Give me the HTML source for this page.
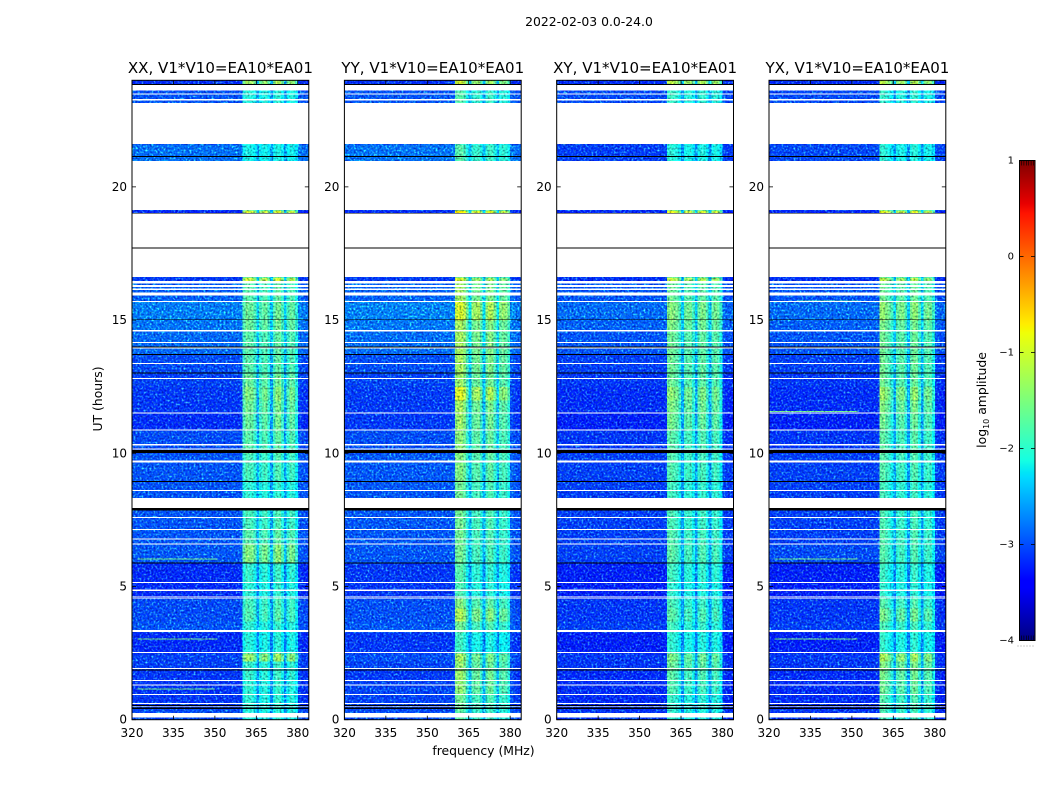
<!DOCTYPE html>
<html>
<head>
<meta charset="utf-8">
<title>2022-02-03 amplitude waterfall</title>
<style>
html,body{margin:0;padding:0;background:#fff;}
svg{display:block;}
text{font-family:"DejaVu Sans","Liberation Sans",sans-serif;fill:#000;}
</style>
</head>
<body>
<svg id="chart" xmlns="http://www.w3.org/2000/svg" width="1050" height="800" viewBox="0 0 1050 800">
  <defs>
    <filter id="speckle" x="0" y="0" width="100%" height="100%" color-interpolation-filters="sRGB">
      <feTurbulence type="fractalNoise" baseFrequency="0.5" numOctaves="2" seed="7" result="n"/>
      <feColorMatrix in="n" type="matrix" values="0.8 0 0 0 -0.42  1.4 0 0 0 -0.62  0 0 0 0 0  0 0 0 0 1" result="add"/>
      <feComposite in="SourceGraphic" in2="add" operator="arithmetic" k1="0" k2="1" k3="1" k4="0" result="a"/>
      <feTurbulence type="fractalNoise" baseFrequency="0.5" numOctaves="2" seed="23" result="m"/>
      <feColorMatrix in="m" type="matrix" values="1.0 0 0 0 0.15  1.0 0 0 0 0.15  0.6 0 0 0 0.37  0 0 0 0 1" result="mul"/>
      <feComposite in="a" in2="mul" operator="arithmetic" k1="1.5" k2="0" k3="0" k4="0" result="c"/>
      <feComposite in="c" in2="SourceGraphic" operator="in"/>
    </filter>
    <linearGradient id="jet-gradient" x1="0" y1="1" x2="0" y2="0"></linearGradient>
  </defs>
  <text x="589" y="26" font-size="12.4" text-anchor="middle">2022-02-03 0.0-24.0</text>
  <text x="483.5" y="755" font-size="12.4" text-anchor="middle">frequency (MHz)</text>
  <text transform="translate(102,399) rotate(-90)" font-size="12.4" text-anchor="middle">UT (hours)</text>
  <g id="panels"></g>
  <g id="colorbar"></g>
  <text transform="translate(986,400) rotate(-90)" font-size="12.4" text-anchor="middle">log<tspan font-size="8" dy="3">10</tspan><tspan dy="-3"> amplitude</tspan></text>
</svg>
<script>
// ---- chart data (UT hours, MHz, log10 amplitude) ----
const panelTitles = ["XX, V1*V10=EA10*EA01", "YY, V1*V10=EA10*EA01", "XY, V1*V10=EA10*EA01", "YX, V1*V10=EA10*EA01"];
const freqTicks = [320, 335, 350, 365, 380];
const utTicks = [0, 5, 10, 15, 20];
const cbarTicks = [1, 0, -1, -2, -3, -4];

// UT edges of the time bands (36 bands)
const utBandEdges = [0, 0.5, 1.0, 1.5, 1.9, 2.2, 2.5, 3.3, 3.7, 4.2, 4.6, 5.2, 5.9, 6.6, 7.2, 7.95, 9.0, 10.0, 10.9, 11.5, 12.0, 12.5, 13.0, 13.7, 14.6, 15.0, 15.7, 16.46, 16.61, 19.0, 19.13, 20.98, 21.61, 23.14, 23.61, 23.85, 24.0];

// off-source level per band
const backgroundXX = [-3.15,-3.25,-3.25,-3.25,-3.2,-3.2,-3.3,-3.1,-3.15,-3.15,-3.3,-3.3,-3.1,-3.1,-3.1,-3.1,-3.1,-3.15,-3.3,-3.25,-3.25,-3.2,-3.15,-3.0,-2.95,-2.9,-3.05,-3.25,-3.2,-3.35,-3.2,-2.95,-3.2,-3.1,-3.2,-3.3];
const backgroundYY = [-3.15,-3.2,-3.2,-3.25,-3.2,-3.15,-3.25,-3.1,-3.15,-3.15,-3.25,-3.25,-3.1,-3.1,-3.1,-3.1,-3.1,-3.15,-3.25,-3.25,-3.25,-3.2,-3.15,-3.0,-2.95,-2.9,-3.05,-3.25,-3.2,-3.35,-3.2,-2.95,-3.2,-3.1,-3.2,-3.3];
const backgroundXY = [-3.25,-3.3,-3.3,-3.3,-3.25,-3.25,-3.35,-3.2,-3.25,-3.25,-3.35,-3.35,-3.2,-3.2,-3.2,-3.2,-3.2,-3.25,-3.35,-3.3,-3.3,-3.25,-3.2,-3.1,-3.05,-3.0,-3.1,-3.3,-3.2,-3.35,-3.2,-3.2,-3.2,-3.15,-3.2,-3.3];
const backgroundYX = [-3.25,-3.3,-3.3,-3.3,-3.25,-3.25,-3.35,-3.2,-3.25,-3.25,-3.35,-3.35,-3.15,-3.2,-3.2,-3.2,-3.2,-3.25,-3.35,-3.3,-3.3,-3.25,-3.2,-3.1,-3.05,-3.0,-3.1,-3.3,-3.2,-3.35,-3.2,-3.15,-3.2,-3.15,-3.2,-3.3];

// on-source level per band
const sourceXX = [-2.0,-1.95,-1.95,-1.9,-1.9,-1.3,-2.0,-1.95,-1.75,-1.8,-1.95,-1.9,-1.45,-1.7,-1.8,-1.95,-1.8,-1.7,-1.6,-1.55,-1.45,-1.6,-1.7,-1.7,-1.6,-1.6,-1.7,-1.05,-2.0,-0.95,-2.0,-2.1,-2.0,-2.0,-2.0,-1.25];
const sourceYY = [-1.7,-1.6,-1.4,-1.35,-1.4,-1.3,-1.9,-1.6,-1.25,-1.5,-1.8,-1.75,-1.6,-1.6,-1.6,-1.6,-1.5,-1.45,-1.35,-1.3,-0.95,-1.35,-1.3,-1.3,-1.3,-1.0,-1.3,-1.0,-2.0,-0.55,-2.0,-1.75,-2.0,-1.75,-2.0,-1.0];
const sourceXY = [-1.95,-1.9,-1.75,-1.7,-1.6,-1.5,-1.95,-1.85,-1.7,-1.8,-1.95,-1.85,-1.7,-1.75,-1.8,-1.85,-1.75,-1.7,-1.55,-1.5,-1.4,-1.6,-1.6,-1.6,-1.5,-1.45,-1.6,-1.1,-2.0,-0.85,-2.0,-2.0,-2.0,-1.9,-2.0,-1.1];
const sourceYX = [-1.8,-1.75,-1.6,-1.55,-1.5,-1.25,-1.95,-1.8,-1.55,-1.75,-1.95,-1.9,-1.75,-1.75,-1.8,-1.85,-1.75,-1.7,-1.6,-1.5,-1.35,-1.6,-1.6,-1.6,-1.55,-1.4,-1.6,-1.15,-2.0,-0.9,-2.0,-2.0,-2.0,-1.95,-2.0,-1.15];

// source weight per 1 MHz channel, 320-384 MHz
const channelWeightXX = [0.02,0.03,0.02,0.03,0.03,0.02,0.02,0.03,0.03,0.02,0.03,0.02,0.02,0.03,0.03,0.02,0.02,0.03,0.03,0.02,0.03,0.02,0.02,0.03,0.03,0.03,0.02,0.03,0.02,0.02,0.03,0.03,0.02,0.03,0.02,0.02,0.03,0.03,0.02,0.04,0.85,1.0,0.95,0.95,0.82,0.36,0.8,0.9,0.95,0.75,0.33,0.85,1.0,1.0,0.8,0.33,0.8,0.95,0.9,0.68,0.06,0.02,0.01,0.0];
const channelWeightYY = [0.03,0.03,0.02,0.03,0.03,0.02,0.03,0.03,0.03,0.02,0.03,0.03,0.02,0.03,0.03,0.02,0.03,0.03,0.03,0.02,0.03,0.03,0.02,0.03,0.03,0.03,0.02,0.03,0.03,0.02,0.03,0.03,0.03,0.03,0.02,0.03,0.03,0.03,0.03,0.05,0.95,1.0,1.0,0.9,0.7,0.35,0.78,0.82,0.85,0.7,0.33,0.78,0.88,0.86,0.7,0.35,0.74,0.8,0.76,0.62,0.07,0.03,0.01,0.0];
const channelWeightXY = [0.02,0.02,0.02,0.03,0.02,0.02,0.02,0.03,0.02,0.02,0.03,0.02,0.02,0.02,0.03,0.02,0.02,0.03,0.02,0.02,0.03,0.02,0.02,0.02,0.03,0.02,0.02,0.03,0.02,0.02,0.03,0.02,0.02,0.03,0.02,0.02,0.03,0.02,0.02,0.04,0.95,1.0,0.95,0.9,0.75,0.36,0.85,0.9,0.88,0.72,0.35,0.85,0.95,0.92,0.75,0.36,0.84,0.92,0.85,0.66,0.05,0.01,0.0,0.0];
const channelWeightYX = [0.02,0.02,0.02,0.03,0.02,0.02,0.02,0.03,0.02,0.02,0.03,0.02,0.02,0.02,0.03,0.02,0.02,0.03,0.02,0.02,0.03,0.02,0.02,0.02,0.03,0.02,0.02,0.03,0.02,0.02,0.03,0.02,0.02,0.03,0.02,0.02,0.03,0.02,0.02,0.04,1.0,1.0,0.92,0.85,0.72,0.36,0.84,0.9,0.92,0.74,0.35,0.88,1.0,0.95,0.75,0.36,0.82,0.9,0.85,0.66,0.05,0.01,0.0,0.0];

// flagged (no data, white) and zero-amplitude (black) UT intervals
const flaggedUT = [[0.08,0.26],[0.47,0.49],[0.59,0.63],[0.93,0.96],[1.29,1.33],[1.45,1.49],[1.90,1.94],[2.50,2.54],[3.29,3.36],[4.54,4.59],[4.62,4.65],[4.83,4.88],[5.13,5.17],[6.57,6.61],[6.77,6.81],[7.12,7.16],[7.57,7.61],[7.94,8.33],[8.58,8.62],[9.66,9.72],[10.14,10.18],[10.29,10.34],[10.86,10.90],[11.49,11.54],[12.79,12.83],[13.35,13.39],[13.94,13.97],[14.14,14.18],[14.58,14.62],[15.68,15.72],[15.93,16.03],[16.13,16.18],[16.25,16.31],[16.37,16.46],[16.61,19.0],[19.13,20.98],[21.61,23.14],[23.24,23.29],[23.46,23.51],[23.61,23.85]];
const zeroUT = [[0.41,0.45],[0.52,0.55],[1.85,1.88],[5.87,5.90],[7.85,7.94],[8.92,8.96],[10.01,10.12],[12.99,13.03],[13.69,13.73],[13.97,14.0],[15.0,15.03],[17.68,17.73],[19.0,19.02],[21.12,21.15],[23.82,23.86]];

// narrow interference streaks: UT, start MHz, end MHz, level
const streaksXX = [[1.15,322,350,-1.6],[3.02,322,351,-1.6],[6.03,322,351,-1.6]];
const streaksYY = [];
const streaksXY = [];
const streaksYX = [[3.02,322,352,-1.6],[6.03,322,352,-1.6],[11.57,320,352,-1.6],[15.72,330,352,-1.8]];

// ---- scales & helpers ----
const SVGNS = "http://www.w3.org/2000/svg";
const panelLeft = [132, 344.4, 556.7, 769];
const panelWidth = 176.8, panelTop = 80.3, panelBottom = 719.7;
const fMin = 320, fMax = 384, utMin = 0, utMax = 24;
const cMin = -4, cMax = 1, cTop = 160.5, cBottom = 640.5, cLeft = 1019.5, cRight = 1035;

function xScale(p, f){ return panelLeft[p] + (f - fMin) / (fMax - fMin) * panelWidth; }
function yScale(t){ return panelBottom - (t - utMin) / (utMax - utMin) * (panelBottom - panelTop); }
function cScale(v){ return cBottom - (v - cMin) / (cMax - cMin) * (cBottom - cTop); }

function piece(t, pts){
  if (t <= pts[0][0]) return pts[0][1];
  for (let i = 1; i < pts.length; i++) {
    if (t <= pts[i][0]) {
      const a = pts[i-1], b = pts[i];
      return a[1] + (b[1]-a[1]) * (t-a[0]) / (b[0]-a[0]);
    }
  }
  return pts[pts.length-1][1];
}
const jetR = [[0,0],[0.35,0],[0.66,1],[0.89,1],[1,0.5]];
const jetG = [[0,0],[0.125,0],[0.375,1],[0.64,1],[0.91,0],[1,0]];
const jetB = [[0,0.5],[0.11,1],[0.34,1],[0.65,0],[1,0]];
function jet(v){
  const t = Math.max(0, Math.min(1, (v - cMin) / (cMax - cMin)));
  return "rgb(" + Math.round(piece(t,jetR)*255) + "," + Math.round(piece(t,jetG)*255) + "," + Math.round(piece(t,jetB)*255) + ")";
}
function make(tag, attrs, parent){
  const el = document.createElementNS(SVGNS, tag);
  for (const k in attrs) el.setAttribute(k, attrs[k]);
  parent.appendChild(el);
  return el;
}

const backgrounds = [backgroundXX, backgroundYY, backgroundXY, backgroundYX];
const sources = [sourceXX, sourceYY, sourceXY, sourceYX];
const weights = [channelWeightXX, channelWeightYY, channelWeightXY, channelWeightYX];
const streaks = [streaksXX, streaksYY, streaksXY, streaksYX];

const panelsRoot = document.getElementById("panels");

panelTitles.forEach(function(title, p){
  const g = make("g", {}, panelsRoot);
  
  

  const clipId = "clip" + p;
  const defs = make("clipPath", {id: clipId}, g);
  make("rect", {x: panelLeft[p], y: panelTop, width: panelWidth, height: panelBottom - panelTop}, defs);

  const body = make("g", {"clip-path": "url(#" + clipId + ")", "shape-rendering": "crispEdges"}, g);
  const heat = make("g", {filter: "url(#speckle)", "shape-rendering": "crispEdges"}, body);
  
  

  for (let b = 0; b < utBandEdges.length - 1; b++) {
    const y0 = yScale(utBandEdges[b+1]), y1 = yScale(utBandEdges[b]);
    for (let c = 0; c < weights[p].length; c++) {
      const v = backgrounds[p][b] + weights[p][c] * (sources[p][b] - backgrounds[p][b]);
      const x0 = xScale(p, fMin + c), x1 = xScale(p, fMin + c + 1);
      const cell = make("rect", {x: x0, y: y0, width: x1 - x0 + 0.5, height: y1 - y0 + 0.5, fill: jet(v)}, heat);
      
      
    }
  }
  streaks[p].forEach(function(s){
    const line = make("rect", {x: xScale(p, s[1]), y: yScale(s[0]) - 0.5, width: xScale(p, s[2]) - xScale(p, s[1]), height: 1, fill: jet(s[3])}, heat);
    
    
  });

  flaggedUT.forEach(function(r){
    const flag = make("rect", {x: panelLeft[p], y: yScale(r[1]), width: panelWidth, height: yScale(r[0]) - yScale(r[1]), fill: "#fff"}, body);
    
    
  });
  zeroUT.forEach(function(r){
    const zero = make("rect", {x: panelLeft[p], y: yScale(r[1]), width: panelWidth, height: yScale(r[0]) - yScale(r[1]), fill: "#000"}, body);
    
    
  });

  const frame = make("rect", {x: panelLeft[p], y: panelTop, width: panelWidth, height: panelBottom - panelTop, fill: "none", stroke: "#000", "stroke-width": 1}, g);
  
  

  freqTicks.forEach(function(f){
    const x = xScale(p, f);
    const t1 = make("line", {x1: x, x2: x, y1: panelBottom, y2: panelBottom - 4, stroke: "#000", "stroke-width": 0.8}, g);
    
    
    const t2 = make("line", {x1: x, x2: x, y1: panelTop, y2: panelTop + 4, stroke: "#000", "stroke-width": 0.8}, g);
    
    
    const lab = make("text", {x: x, y: 737, "font-size": 12, "text-anchor": "middle"}, g);
    lab.textContent = String(f);
    
    
  });
  utTicks.forEach(function(t){
    const y = yScale(t);
    const t1 = make("line", {x1: panelLeft[p], x2: panelLeft[p] + 4, y1: y, y2: y, stroke: "#000", "stroke-width": 0.8}, g);
    
    
    const t2 = make("line", {x1: panelLeft[p] + panelWidth, x2: panelLeft[p] + panelWidth - 4, y1: y, y2: y, stroke: "#000", "stroke-width": 0.8}, g);
    
    
    const lab = make("text", {x: panelLeft[p] - 5, y: y + 4, "font-size": 12, "text-anchor": "end"}, g);
    lab.textContent = String(t);
    
    
  });

  const ttl = make("text", {x: panelLeft[p] + panelWidth / 2, y: 73, "font-size": 15.05, "text-anchor": "middle"}, g);
  ttl.textContent = title;
  
  
});

// colour bar
const grad = document.getElementById("jet-gradient");
const cbarStopValues = [-4, -3.45, -3.375, -2.3, -2.25, -2.125, -1.8, -1.25, -0.8, -0.75, -0.7, -0.55, 0.45, 0.55, 1];
cbarStopValues.forEach(function(v){
  make("stop", {offset: (v - cMin) / (cMax - cMin), "stop-color": jet(v)}, grad);
});
const cbarRoot = document.getElementById("colorbar");
const cbarRect = make("rect", {x: cLeft, y: cTop, width: cRight - cLeft, height: cBottom - cTop, fill: "url(#jet-gradient)", stroke: "#000", "stroke-width": 1}, cbarRoot);


cbarTicks.forEach(function(v){
  const y = cScale(v);
  const lab = make("text", {x: 1014, y: y + 3, "font-size": 10, "text-anchor": "end"}, cbarRoot);
  lab.textContent = v < 0 ? "\u2212" + Math.abs(v) : String(v);
  
  
  if (v > cMin && v < cMax) {
    const a = make("line", {x1: cLeft, x2: cLeft + 4, y1: y, y2: y, stroke: "#000", "stroke-width": 0.8}, cbarRoot);
    
    
    const b = make("line", {x1: cRight, x2: cRight - 4, y1: y, y2: y, stroke: "#000", "stroke-width": 0.8}, cbarRoot);
    
    
  }
});
for (let i = 0; i < 6; i++) {
  const mx = cLeft + 2 + i * 2.4;
  const top = make("line", {x1: mx, x2: mx, y1: cTop, y2: cTop + 5, stroke: "#000", "stroke-width": 0.6}, cbarRoot);
  
  
  const bot = make("line", {x1: mx, x2: mx, y1: cBottom, y2: cBottom - 5, stroke: "#000", "stroke-width": 0.6}, cbarRoot);
  
  
  const dot = make("rect", {x: cLeft - 2 + i * 3, y: 645.5, width: 1, height: 1, fill: "#999"}, cbarRoot);
  
  
}
</script>
</body>
</html>
